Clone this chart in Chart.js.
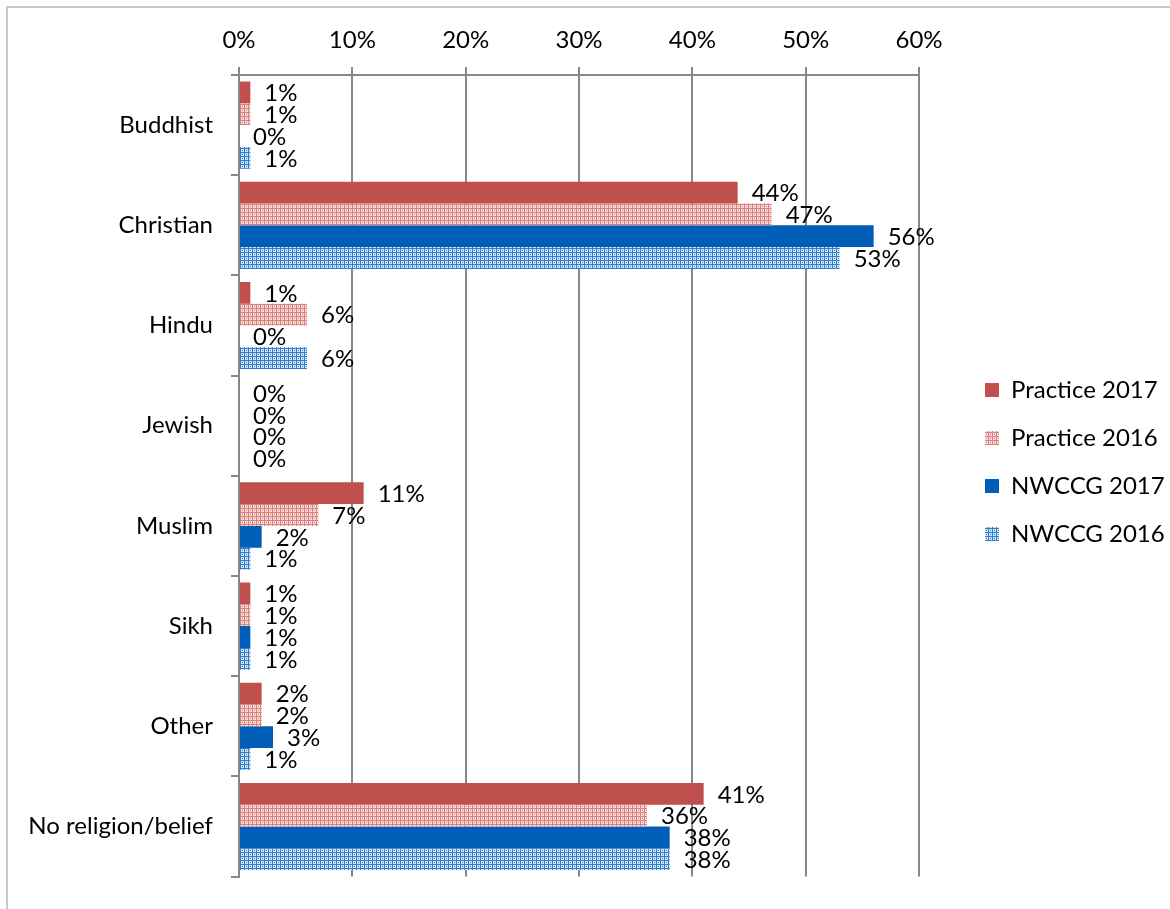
<!DOCTYPE html>
<html><head><meta charset="utf-8">
<script src="https://cdn.jsdelivr.net/npm/chart.js@4.4.1/dist/chart.umd.min.js"></script>
<style>
html,body{margin:0;padding:0;background:#fff;overflow:hidden;width:1170px;height:909px}
#frame{position:absolute;left:6px;top:6px;width:1300px;height:1000px;border-top:2px solid #c9c9c9;border-left:2px solid #c9c9c9}
#wrap{position:absolute;left:0;top:0;width:1170px;height:909px}
</style></head><body>
<div id="frame"></div>
<div id="wrap"><canvas id="c"></canvas></div>
<script>
const categories = ['Buddhist','Christian','Hindu','Jewish','Muslim','Sikh','Other','No religion/belief'];
const seriesNames = ['Practice 2017','Practice 2016','NWCCG 2017','NWCCG 2016'];
const practice2017 = [1, 44, 1, 0, 11, 1, 2, 41];
const practice2016 = [1, 47, 6, 0, 7, 1, 2, 36];
const nwccg2017   = [0, 56, 0, 0, 2, 1, 3, 38];
const nwccg2016   = [1, 53, 6, 0, 1, 1, 1, 38];
const axisMin = 0, axisMax = 60, axisStep = 10;

const FONT = 'Lato, "Open Sans", sans-serif';
const FS = 24;

function checker(line, cell){
  const c = document.createElement('canvas'); c.width = 4; c.height = 4;
  const g = c.getContext('2d');
  g.fillStyle = cell; g.fillRect(0,0,4,4);
  g.fillStyle = line; g.fillRect(0,0,4,1); g.fillRect(0,0,1,4); g.fillRect(2,2,1,1);
  return g.createPattern(c,'repeat');
}
const red = '#C0504D', blue = '#005EB8';
const redPat = checker('#D9807D', '#F7DEDD');
const bluePat = checker('#2F7BCB', '#D4E5F7');

const valueLabels = {
  id: 'valueLabels',
  afterDatasetsDraw(chart){
    const ctx = chart.ctx; ctx.save();
    ctx.font = FS + 'px ' + FONT; ctx.fillStyle = '#000';
    ctx.textAlign = 'left'; ctx.textBaseline = 'middle';
    chart.data.datasets.forEach((ds, i) => {
      chart.getDatasetMeta(i).data.forEach((bar, j) => {
        ctx.fillText(ds.data[j] + '%', bar.x + 14, bar.y + 1);
      });
    });
    ctx.restore();
  }
};
const LEG_PAD = 24;
const legendPlace = {
  id: 'legendPlace',
  afterInit(chart){
    const l = chart.legend; const f = l.fit.bind(l);
    l.fit = function(){ f(); this.width = 251; };
  },
  afterLayout(chart){
    const l = chart.legend; const w = l.width;
    l.left = 985 - LEG_PAD; l.right = l.left + w;
    l.top += 20; l.bottom += 20;
  }
};

new Chart(document.getElementById('c'), {
  type: 'bar',
  data: {
    labels: categories,
    datasets: [
      {label: seriesNames[0], data: practice2017, backgroundColor: red},
      {label: seriesNames[1], data: practice2016, backgroundColor: redPat},
      {label: seriesNames[2], data: nwccg2017, backgroundColor: blue},
      {label: seriesNames[3], data: nwccg2016, backgroundColor: bluePat}
    ]
  },
  options: {
    indexAxis: 'y',
    responsive: true, maintainAspectRatio: false, animation: false,
    layout: {padding: {left: 0, top: 0, right: 0, bottom: 25}},
    datasets: {bar: {categoryPercentage: 0.87, barPercentage: 1.0}},
    plugins: {
      tooltip: {enabled: false},
      legend: {
        position: 'right',
        labels: {font: {family: FONT, size: FS, lineHeight: 1.2}, color: '#000', boxWidth: 14, boxHeight: 14, padding: LEG_PAD}
      }
    },
    scales: {
      x: {
        position: 'top', min: axisMin, max: axisMax,
        afterFit(s){ s.height = 75; },
        ticks: {stepSize: axisStep, color: '#000', font: {family: FONT, size: FS}, padding: 12, callback: v => v + '%'},
        grid: {color: '#888', lineWidth: 2, tickLength: 8},
        border: {display: true, color: '#888', width: 2}
      },
      y: {
        afterFit(s){ s.width = 239; },
        ticks: {color: '#000', font: {family: FONT, size: FS}, padding: 18},
        grid: {display: true, drawOnChartArea: false, offset: true, color: '#888', lineWidth: 2, tickLength: 8},
        border: {display: true, color: '#888', width: 2}
      }
    }
  },
  plugins: [valueLabels, legendPlace]
});
</script>
</body></html>
